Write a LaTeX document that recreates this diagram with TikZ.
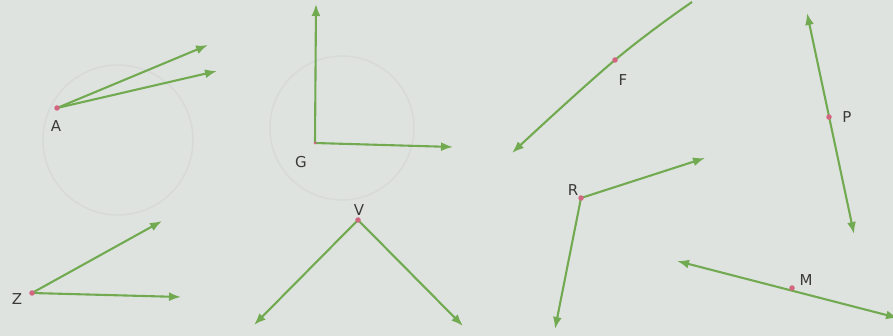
\documentclass[tikz,border=0pt]{standalone}
\usepackage{fontspec}
\setmainfont{DejaVu Sans}
\usetikzlibrary{arrows.meta}
\definecolor{paper}{HTML}{DFE3E0}
\definecolor{raygreen}{HTML}{72AA52}
\definecolor{dotpink}{HTML}{D2657F}
\definecolor{labelgray}{HTML}{3A3A3A}
\definecolor{faint}{HTML}{D7DAD8}
\tikzset{
  ray/.style={draw=raygreen, line width=2.1pt, line join=round, -{Latex[length=12pt,width=9pt]}},
  line2/.style={draw=raygreen, line width=2.1pt, line join=round, {Latex[length=12pt,width=9pt]}-{Latex[length=12pt,width=9pt]}},
  vdot/.style={circle, fill=dotpink, inner sep=0pt, minimum size=5.5pt},
  lbl/.style={text=labelgray, font=\fontsize{15}{15}\selectfont, inner sep=0pt},
  trace/.style={draw=faint, line width=1.5pt}
}
\begin{document}
\begin{tikzpicture}[x=1pt,y=-1pt]
\fill[paper] (0,0) rectangle (893,336);
\useasboundingbox (0,0) rectangle (893,336);
% faint background traces
\draw[trace] (118,140) circle (75);
\draw[trace] (342,128) circle (72);
% A
\coordinate (A) at (57,108);
\coordinate (A1) at (208,45);
\coordinate (A2) at (217,71);
\draw[ray] (A) -- (A1);
\draw[ray] (A) -- (A2);
\node[vdot] (Ad) at (A) {};
\node[lbl] (Al) at (56,126) {A};
% G
\coordinate (G) at (315,143);
\coordinate (G1) at (316,4);
\coordinate (G2) at (453,147);
\draw[ray] (G) -- (G1);
\draw[ray] (G) -- (G2);
\node[vdot, minimum size=3pt] (Gd) at (G) {};
\node[lbl] (Gl) at (301,162) {G};
% F line
\coordinate (F) at (615,60);
\coordinate (F1) at (692,2);
\coordinate (F2) at (512,153);
\draw[ray] plot[smooth, tension=0.7] coordinates {(F1) (F) (F2)};
\node[vdot] (Fd) at (F) {};
\node[lbl] (Fl) at (623,80) {F};
% P line
\coordinate (P) at (829,117);
\coordinate (P1) at (807,13);
\coordinate (P2) at (854,234);
\draw[line2] (P1) -- (P2);
\node[vdot] (Pd) at (P) {};
\node[lbl] (Pl) at (847,117) {P};
% Z
\coordinate (Z) at (32,293);
\coordinate (Z1) at (162,221);
\coordinate (Z2) at (181,297);
\draw[ray] (Z) -- (Z1);
\draw[ray] (Z) -- (Z2);
\node[vdot] (Zd) at (Z) {};
\node[lbl] (Zl) at (17,299) {Z};
% V
\coordinate (V) at (358,220);
\coordinate (V1) at (254,325);
\coordinate (V2) at (463,326);
\draw[ray] (V) -- (V1);
\draw[ray] (V) -- (V2);
\node[vdot] (Vd) at (V) {};
\node[lbl] (Vl) at (359,210) {V};
% R
\coordinate (R) at (581,198);
\coordinate (R1) at (705,158);
\coordinate (R2) at (555,329);
\draw[ray] (R) -- (R1);
\draw[ray] (R) -- (R2);
\node[vdot] (Rd) at (R) {};
\node[lbl] (Rl) at (573,190) {R};
% M line
\coordinate (M) at (792,288);
\coordinate (M1) at (677,261);
\coordinate (M2) at (898,318);
\draw[line2] (M1) -- (M2);
\node[vdot] (Md) at (M) {};
\node[lbl] (Ml) at (806,280) {M};
\end{tikzpicture}
\end{document}
